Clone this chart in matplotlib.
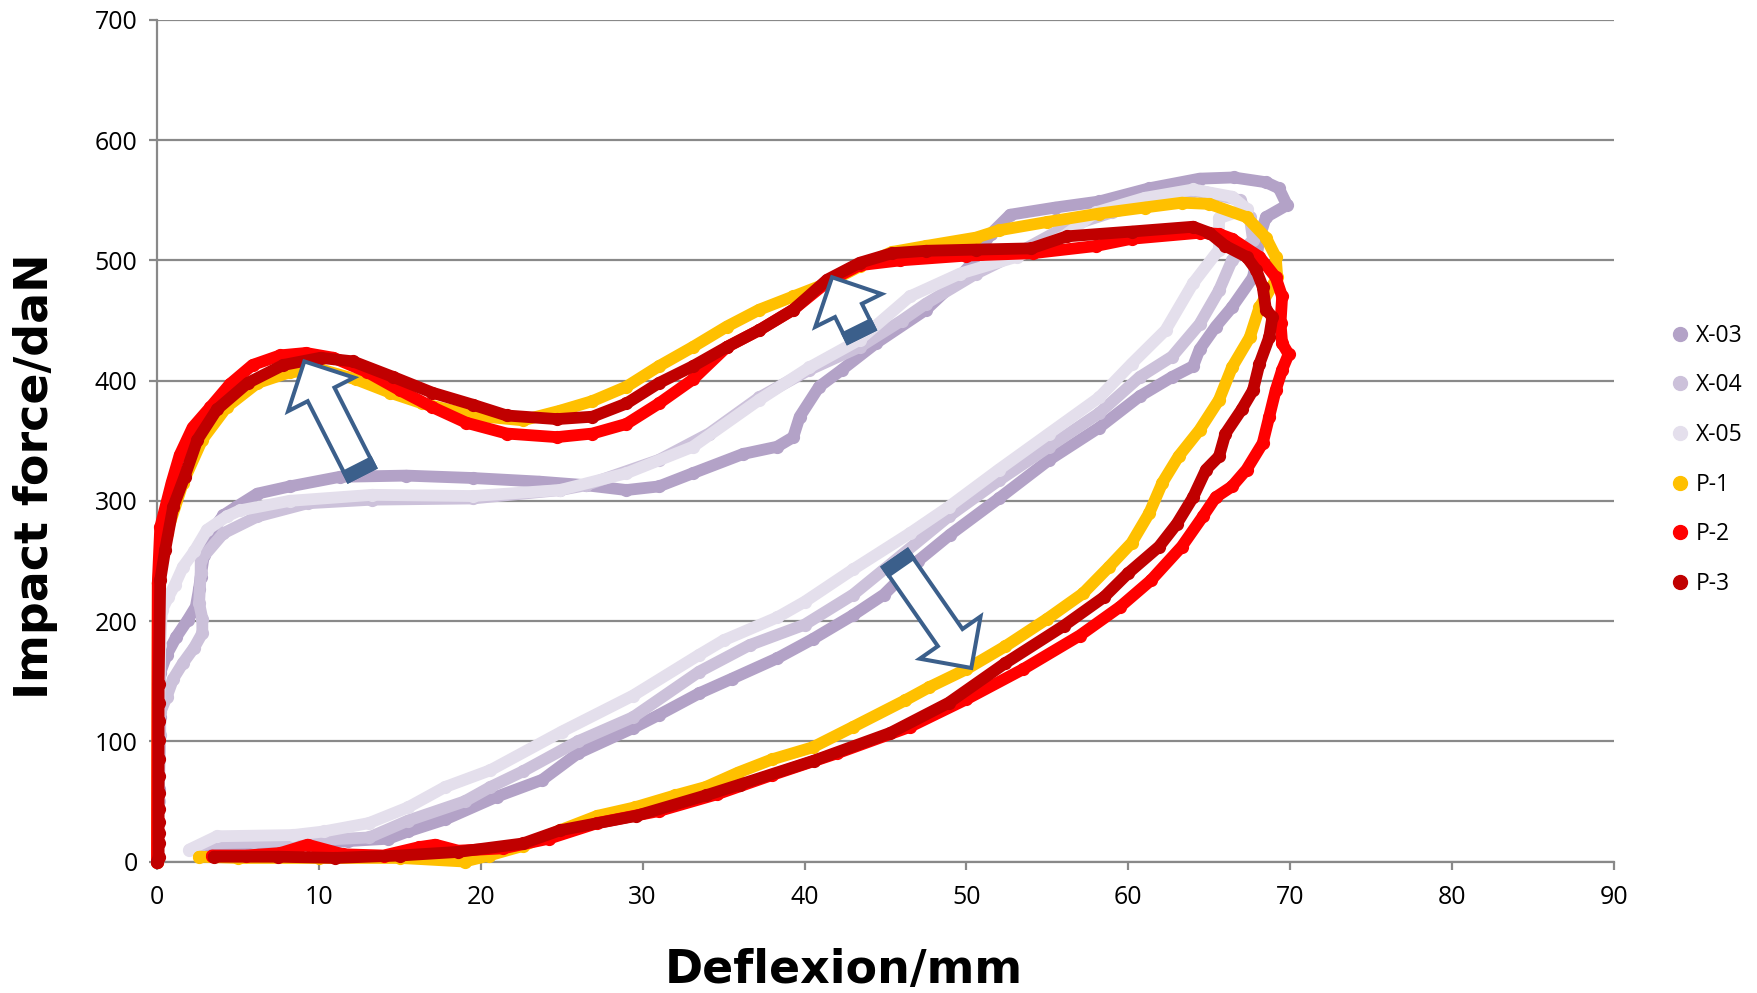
import matplotlib
matplotlib.use("Agg")
import numpy as np
import matplotlib.pyplot as plt
from matplotlib.lines import Line2D
from matplotlib.patches import Polygon

# series (deflexion in mm / force in daN)
names = ["X-03", "X-04", "X-05", "P-1", "P-2", "P-3"]
colors = ["#b3a2c7", "#ccc1da", "#e4dfec", "#ffc000", "#ff0000", "#c00000"]

x03_x = [0, 0.1, 0.2, 0.2, 0.6, 1.2, 1.9, 2.4, 2.6, 2.7, 2.9, 3.4, 4.1, 4.9, 6.2, 8.2, 11.3, 15.4,
         19.5, 23.6, 26.5, 29.0, 31.0, 33.1, 36.2, 38.3, 39.3, 39.7, 40.9, 42.3, 44.4, 47.5, 49.0,
         50.3, 51.5, 52.7, 55.5, 58.2, 61.3, 64.4, 66.5, 68.5, 69.3, 69.8, 68.5, 68.1, 67.9, 67.7,
         66.4, 65.4, 64.4, 64.0, 62.7, 60.7, 58.2, 55.1, 52.0, 49.0, 47.0, 44.9, 43.0, 40.5, 38.3,
         35.5, 33.5, 31.0, 29.4, 26.0, 23.8, 21.0, 17.8, 15.5, 14.3, 11.8, 8.4, 5.5, 3.0]
x03_y = [0, 60, 120, 157, 172, 187, 201, 212, 227, 237, 255, 275, 288, 295, 306, 312, 320, 321,
         319, 316, 313, 309, 312, 323, 339, 345, 353, 370, 395, 409, 431, 459, 478,
         497, 522, 538, 544, 549, 560, 568, 569, 565, 560, 546, 536, 519, 500, 486,
         461, 445, 426, 412, 403, 387, 361, 334, 302, 272, 250, 222, 205, 185, 169,
         152, 140, 122, 111, 90, 68, 54, 35, 25, 19, 17, 13, 13, 12]

x04_x = [0, 0.1, 0.2, 0.2, 0.6, 1.0, 1.6, 2.3, 2.8, 2.8, 2.6, 2.7, 2.7, 4.1, 6.2, 9.3, 13.3, 19.5,
         24.9, 26.5, 31.0, 34.1, 37.2, 40.3, 43.4, 46.0, 47.5, 50.6, 53.0, 56.0, 59.0, 62.0, 64.4,
         66.9, 67.5, 67.7, 66.4, 65.6, 64.4, 62.7, 60.7, 58.2, 55.1, 52.0, 48.9, 46.0, 43.0, 40.0,
         36.6, 33.5, 29.4, 26.0, 22.6, 20.6, 19.0, 15.5, 13.1, 10.0, 6.0, 3.0, 2.4]
x04_y = [0, 50, 105, 124, 137, 152, 165, 178, 190, 202, 215, 240, 251, 273, 287, 298, 301, 302,
         309, 313, 334, 356, 386, 409, 428, 450, 464, 489, 505, 527, 540, 550, 558,
         550, 536, 517, 500, 475, 447, 420, 403, 373, 345, 317, 287, 255, 222, 197,
         180, 158, 120, 100, 75, 62, 50, 34, 20, 18, 16, 15, 10]

x05_x = [0, 0.1, 0.2, 0.3, 0.7, 1.1, 1.6, 2.3, 3.1, 4.3, 5.1, 8.2, 13.3, 19.5, 24.9, 29.0, 33.1,
         37.2, 40.3, 43.4, 46.5, 49.6, 53.1, 56.0, 58.0, 61.0, 64.0, 66.4, 67.3, 65.6, 65.6, 64.0,
         62.3, 60.2, 58.2, 55.1, 52.0, 48.9, 46.5, 43.0, 40.0, 38.3, 35.0, 33.5, 29.4, 25.0, 20.6,
         17.8, 15.5, 13.1, 10.3, 8.4, 3.7, 2.0]
x05_y = [0, 100, 180, 209, 220, 230, 245, 258, 276, 287, 292, 300, 305, 304, 309, 323, 345,
         384, 411, 434, 470, 489, 503, 520, 540, 552, 559, 553, 543, 535, 509, 481,
         442, 414, 386, 356, 326, 295, 273, 243, 216, 203, 184, 172, 138, 108, 76,
         62, 45, 32, 25, 22, 21, 10]

p1_x = [0, 0.05, 0.2, 0.6, 1.6, 2.8, 4.3, 6.2, 8.2, 10.2, 12.3, 14.4, 16.4, 19.5, 22.6, 24.9, 26.9,
        29.0, 31.0, 33.1, 35.2, 37.2, 39.3, 41.4, 43.4, 45.4, 47.5, 50.6, 52.0, 55.0, 58.2, 61.0,
        63.3, 65.0, 67.3, 68.5, 69.1, 69.2, 68.1, 67.5, 66.4, 65.6, 64.4, 63.1, 62.1, 61.3, 60.2,
        58.8, 57.2, 55.0, 52.4, 50.0, 47.7, 46.2, 43.0, 40.5, 38.0, 35.9, 33.9, 32.0, 29.5, 27.2,
        24.9, 22.6, 20.5, 19.0, 15.0, 10.0, 5.0, 2.6]
p1_y = [0, 232, 250, 273, 315, 351, 378, 398, 407, 409, 401, 390, 381, 371, 367, 375, 383,
        395, 412, 428, 445, 459, 470, 481, 495, 507, 512, 519, 525, 532, 539, 544,
        548, 547, 536, 519, 503, 486, 461, 436, 411, 384, 359, 337, 315, 290, 265,
        245, 223, 202, 179, 160, 145, 134, 112, 95, 85, 74, 62, 55, 45, 38,
        26, 13, 5, 0, 3, 3, 3, 4]

p2_x = [0, 0.05, 0.2, 0.9, 1.4, 2.2, 3.3, 4.5, 5.9, 7.6, 9.2, 10.9, 13.0, 15.0, 17.0, 19.1, 21.6,
        24.7, 26.9, 29.0, 31.0, 33.1, 35.2, 37.2, 39.3, 41.4, 43.4, 45.9, 50.0, 54.1, 58.0, 60.2,
        64.4, 65.6, 66.4, 68.1, 69.1, 69.5, 69.4, 69.5, 69.9, 69.5, 69.1, 68.7, 68.3, 67.3, 66.4,
        65.4, 64.6, 63.3, 61.4, 59.5, 57.0, 53.5, 50.0, 46.5, 42.0, 38.0, 34.6, 31.0, 27.2, 24.2,
        21.4, 18.6, 17.2, 16.2, 14.0, 11.5, 9.3, 7.6, 5.5, 3.4]
p2_y = [0, 232, 278, 315, 338, 361, 378, 397, 413, 421, 423, 419, 407, 392, 378, 365, 356,
        353, 356, 364, 381, 401, 428, 442, 459, 482, 496, 500, 504, 506, 512, 518,
        523, 522, 518, 503, 486, 470, 448, 431, 422, 409, 392, 370, 348, 326, 312,
        303, 287, 262, 234, 212, 188, 160, 135, 112, 90, 72, 56, 42, 32, 19,
        11, 9, 14, 12, 5, 6, 14, 7, 5, 5]

p3_x = [0, 0.1, 0.1, 0.1, 0.1, 0.1, 0.1, 0.1, 0.1, 0.1, 0.1, 0.1, 0.1, 0.2, 0.5, 1.0, 1.7, 2.5,
        3.7, 5.6, 7.8, 10.1, 12.1, 14.6, 17.0, 19.5, 21.6, 24.7, 26.9, 29.0, 31.0, 33.1, 35.2,
        37.2, 39.3, 41.4, 43.4, 45.4, 47.5, 50.6, 54.0, 56.2, 60.2, 64.0, 65.0, 66.0, 67.3, 67.9,
        68.3, 68.5, 68.9, 68.7, 68.1, 67.7, 67.0, 66.0, 65.6, 64.8, 64.0, 63.0, 61.9, 60.0, 58.5,
        56.0, 52.4, 48.9, 45.3, 40.6, 36.0, 33.9, 29.6, 24.9, 22.6, 18.6, 15.0, 11.0, 7.5, 3.5]
p3_y = [0, 4, 15, 24, 33, 44, 57, 71, 85, 101, 117, 132, 148, 234, 259, 295, 320, 351,
        376, 398, 413, 419, 416, 403, 390, 380, 371, 368, 370, 381, 398, 412, 428,
        442, 459, 484, 498, 506, 508, 509, 510, 520, 524, 528, 523, 512, 503, 492,
        478, 459, 453, 436, 414, 392, 376, 356, 337, 326, 303, 281, 262, 240, 220,
        196, 165, 132, 107, 84, 64, 55, 38, 26, 15, 8, 5, 3, 4, 4]

series_x = [x03_x, x04_x, x05_x, p1_x, p2_x, p3_x]
series_y = [x03_y, x04_y, x05_y, p1_y, p2_y, p3_y]

# annotation arrows: tail -> tip, in data units
arrow_tails = [(12.65, 322), (43.5, 437), (45.6, 252)]
arrow_tips = [(9.1, 416), (41.7, 486), (50.3, 161)]

GRID = "#898989"
ARROW = "#3b5f8b"

fig = plt.figure(figsize=(17.58, 9.93), dpi=100)
ax = fig.add_subplot(111)
fig.subplots_adjust(left=0.0893, right=0.9181, bottom=0.1324, top=0.9799)

for xs, ys, c, n in zip(series_x, series_y, colors, names):
    ax.plot(xs, ys, "-o", color=c, lw=8.5, ms=8.5, mec=c, label=n,
            solid_capstyle="round", solid_joinstyle="round", clip_on=False, zorder=3)

ax.set_xlim(0, 90)
ax.set_ylim(0, 700)
ax.set_xticks(range(0, 91, 10))
ax.set_yticks(range(0, 701, 100))
ax.yaxis.grid(True, color=GRID, lw=1.6, zorder=0)
ax.set_axisbelow(True)
for s in ["top", "right"]:
    ax.spines[s].set_visible(False)
for s in ["left", "bottom"]:
    ax.spines[s].set_color(GRID)
    ax.spines[s].set_linewidth(1.6)
ax.tick_params(axis="both", colors=GRID, width=1.6, length=6, direction="out",
               labelcolor="black", labelsize=18)
ax.tick_params(axis="x", pad=11)
ax.tick_params(axis="y", pad=8)
for lab in ax.get_xticklabels() + ax.get_yticklabels():
    lab.set_fontfamily("Open Sans")

ax.set_xlabel("Deflexion/mm", fontsize=33, fontweight="bold", family="DejaVu Sans", va="center")
ax.set_ylabel("Impact force/daN", fontsize=33, fontweight="bold", family="DejaVu Sans", va="center")
ax.xaxis.set_label_coords(0.4715, -0.130)
ax.yaxis.set_label_coords(-0.0837, 0.458)

handles = [Line2D([], [], ls="none", marker="o", ms=10, color=c, mec=c) for c in colors]
leg = fig.legend(handles, names, loc="center left", bbox_to_anchor=(0.944, 0.537),
                 frameon=False, labelspacing=1.12, handlelength=0.8,
                 handletextpad=0.3, borderpad=0, prop={"family": "Open Sans", "size": 16.5})


def block_arrow(tail, tip, shaft_w=30, head_w=74, head_l=37, band=10):
    # geometry built in pixels, then mapped back to data units
    T = ax.transData.transform(tail)
    P = ax.transData.transform(tip)
    u = (P - T) / np.hypot(*(P - T))
    nrm = np.array([-u[1], u[0]])
    B = P - u * head_l
    pts = [T + nrm * shaft_w / 2, B + nrm * shaft_w / 2, B + nrm * head_w / 2, P,
           B - nrm * head_w / 2, B - nrm * shaft_w / 2, T - nrm * shaft_w / 2]
    inv = ax.transData.inverted()
    ax.add_patch(Polygon(inv.transform(pts), closed=True, fc="white", ec=ARROW,
                         lw=2.9, joinstyle="miter", zorder=10, clip_on=False))
    bnd = [T + nrm * shaft_w / 2, T + u * band + nrm * shaft_w / 2,
           T + u * band - nrm * shaft_w / 2, T - nrm * shaft_w / 2]
    ax.add_patch(Polygon(inv.transform(bnd), closed=True, fc=ARROW, ec=ARROW,
                         lw=2.9, joinstyle="miter", zorder=11, clip_on=False))


for t, p in zip(arrow_tails, arrow_tips):
    block_arrow(t, p)

fig.savefig("out.png", dpi=100, facecolor="white")
